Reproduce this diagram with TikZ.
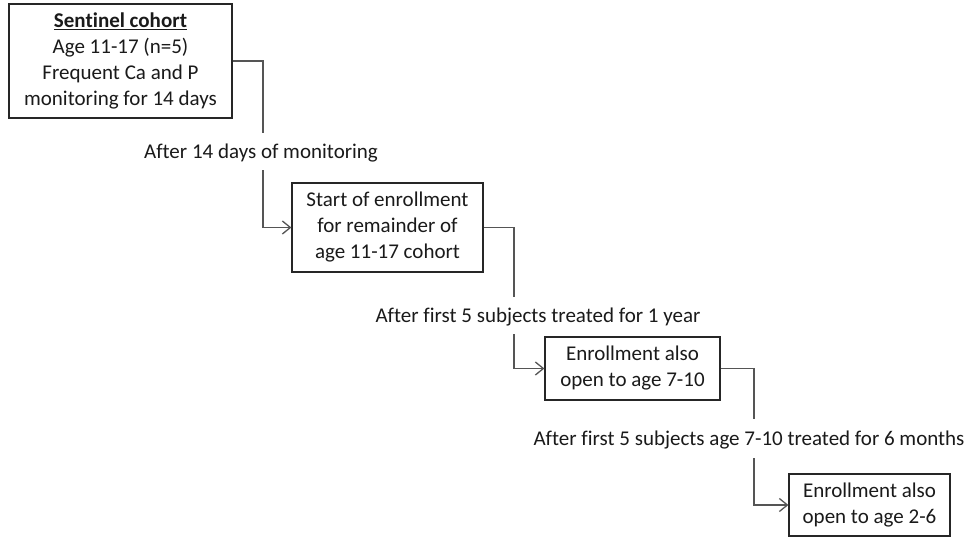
\documentclass[tikz,border=0pt]{standalone}
\usepackage{fontspec}
\setmainfont{Carlito}[Ligatures={NoCommon}]
\usetikzlibrary{arrows.meta}
\definecolor{txt}{HTML}{1A1A1A}
\definecolor{ln}{HTML}{555555}
\begin{document}
\begin{tikzpicture}[x=1pt,y=-1pt,
  box/.style={draw=black!85,line width=1.2pt,fill=white,inner sep=0pt,align=center,text=txt,
    font=\fontsize{21}{26}\selectfont},
  lbl/.style={inner sep=0pt,text=txt,font=\fontsize{21}{26}\selectfont},
  conn/.style={draw=ln,line width=1.3pt},
  arr/.style={conn,-{Straight Barb[length=8pt,width=13pt,line width=1.3pt]}}]
\useasboundingbox[fill=white] (0,0) rectangle (970,538);
\node[box,minimum width=223pt,minimum height=114pt] (b1) at (120.5,61) {\underline{\textbf{Sentinel cohort}}\\Age 11-17 (n=5)\\Frequent Ca and P\\monitoring for 14 days};
\node[box,minimum width=191pt,minimum height=89pt] (b2) at (387.5,227.5) {Start of enrollment\\for remainder of\\age 11-17 cohort};
\node[box,minimum width=175pt,minimum height=63pt] (b3) at (632.5,368.5) {Enrollment also\\open to age 7-10};
\node[box,minimum width=161pt,minimum height=62pt] (b4) at (869.5,505) {Enrollment also\\open to age 2-6};
\node[lbl] (l1) at (261,153) {After 14 days of monitoring};
\node[lbl] (l2) at (538,317) {After first 5 subjects treated for 1 year};
\node[lbl] (l3) at (749,440) {After first 5 subjects age 7-10 treated for 6 months};
\coordinate (k1a) at (263,133);
\coordinate (k1b) at (263,170);
\coordinate (k2a) at (514,297);
\coordinate (k2b) at (514,334);
\coordinate (k3a) at (754,419);
\coordinate (k3b) at (754,458);
\draw[conn] (b1.east) -| (k1a);
\draw[arr] (k1b) |- (b2.west);
\draw[conn] (b2.east) -| (k2a);
\draw[arr] (k2b) |- (b3.west);
\draw[conn] (b3.east) -| (k3a);
\draw[arr] (k3b) |- (b4.west);
\end{tikzpicture}
\end{document}
